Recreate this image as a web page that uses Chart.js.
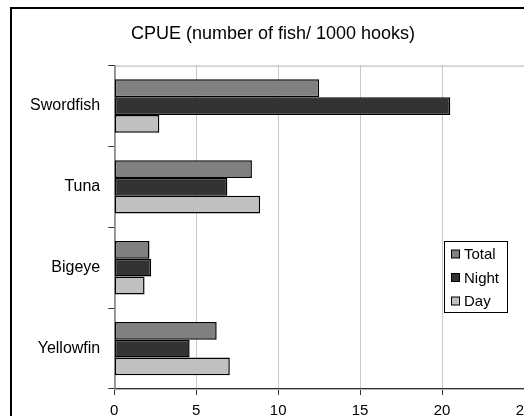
<!DOCTYPE html>
<html>
<head>
<meta charset="utf-8">
<script src="https://cdn.jsdelivr.net/npm/chart.js@4/dist/chart.umd.min.js"></script>
<style>
  html, body { margin: 0; padding: 0; background: #fff; }
  #wrap { position: relative; width: 524px; height: 416px; overflow: hidden; background: #fff; }
  #frame { position: absolute; left: 10px; top: 7px; width: 640px; height: 520px; border: 2px solid #000; }
  #box { position: absolute; left: 0; top: 0; width: 600px; height: 440px; }
</style>
</head>
<body>
<div id="wrap">
  <div id="frame"></div>
  <div id="box"><canvas id="myChart"></canvas></div>
</div>
<script>
'use strict'

// species on the y axis
const species = ['Swordfish', 'Tuna', 'Bigeye', 'Yellowfin'];

// CPUE values
const totalValues = [12.5, 8.4, 2.15, 6.25];
const nightValues = [20.5, 6.9, 2.25, 4.6];
const dayValues = [2.75, 8.9, 1.85, 7.05];

const xTicks = [0, 5, 10, 15, 20, 25];

const fontName = '"Liberation Sans", Arial, sans-serif';

// grey frame round the plot area
const plotFrame = {
  id: 'plotFrame',
  beforeDatasetsDraw(chart) {
    const a = chart.chartArea;
    const ctx = chart.ctx;
    ctx.save();
    ctx.strokeStyle = '#b0b0b0';
    ctx.lineWidth = 1;
    ctx.strokeRect(a.left + 0.5, a.top + 0.5, a.right - a.left, a.bottom - a.top);
    ctx.restore();
  }
};

// boxed legend sitting inside the plot
const boxLegend = {
  id: 'boxLegend',
  afterDraw(chart) {
    const ctx = chart.ctx;
    const x = 444, y = 241, w = 63, h = 71;
    ctx.save();
    ctx.fillStyle = '#fff';
    ctx.fillRect(x, y, w, h);
    ctx.strokeStyle = '#000';
    ctx.lineWidth = 1;
    ctx.strokeRect(x + 0.5, y + 0.5, w, h);
    ctx.font = '15px ' + fontName;
    ctx.textBaseline = 'middle';
    chart.data.datasets.forEach(function(ds, i) {
      const cy = y + 13 + i * 23.5;
      ctx.fillStyle = ds.backgroundColor;
      ctx.fillRect(x + 7.5, cy - 4, 8, 8);
      ctx.strokeRect(x + 7.5, cy - 4, 8, 8);
      ctx.fillStyle = '#000';
      ctx.fillText(ds.label, x + 20, cy + 1);
    });
    ctx.restore();
  }
};

const data = {
  labels: species,
  datasets: [
    { label: 'Total', data: totalValues, backgroundColor: '#808080' },
    { label: 'Night', data: nightValues, backgroundColor: '#333333' },
    { label: 'Day', data: dayValues, backgroundColor: '#c0c0c0' }
  ].map(function(ds) {
    ds.borderColor = '#000';
    ds.borderWidth = 1.5;
    ds.borderSkipped = false;
    ds.categoryPercentage = 0.66;
    ds.barPercentage = 1.0;
    return ds;
  })
};

const config = {
  type: 'bar',
  data: data,
  options: {
    indexAxis: 'y',
    responsive: false,
    animation: false,
    devicePixelRatio: 1,
    layout: { padding: { left: 22, right: 76, top: 23, bottom: 13 } },
    plugins: {
      legend: { display: false },
      tooltip: { enabled: false },
      title: {
        display: true,
        text: 'CPUE (number of fish/ 1000 hooks)',
        color: '#000',
        font: { family: fontName, size: 18, weight: 'normal' },
        padding: { top: 0, bottom: 21 }
      }
    },
    scales: {
      x: {
        min: 0,
        max: 25,
        afterBuildTicks(scale) {
          scale.ticks = xTicks.map(function(v) { return { value: v }; });
        },
        grid: { color: '#c8c8c8', tickColor: '#333', tickLength: 6, lineWidth: 1 },
        border: { color: '#333', width: 1.5 },
        ticks: { color: '#000', padding: 7, font: { family: fontName, size: 15 }, maxRotation: 0 }
      },
      y: {
        grid: { drawOnChartArea: false, tickColor: '#333', tickLength: 6 },
        border: { color: '#333', width: 1.5 },
        ticks: { color: '#000', padding: 8, font: { family: fontName, size: 16 } }
      }
    }
  },
  plugins: [plotFrame, boxLegend]
};

const canvas = document.getElementById('myChart');
canvas.width = 600;
canvas.height = 440;
const myChart = new Chart(canvas, config);
</script>
</body>
</html>
